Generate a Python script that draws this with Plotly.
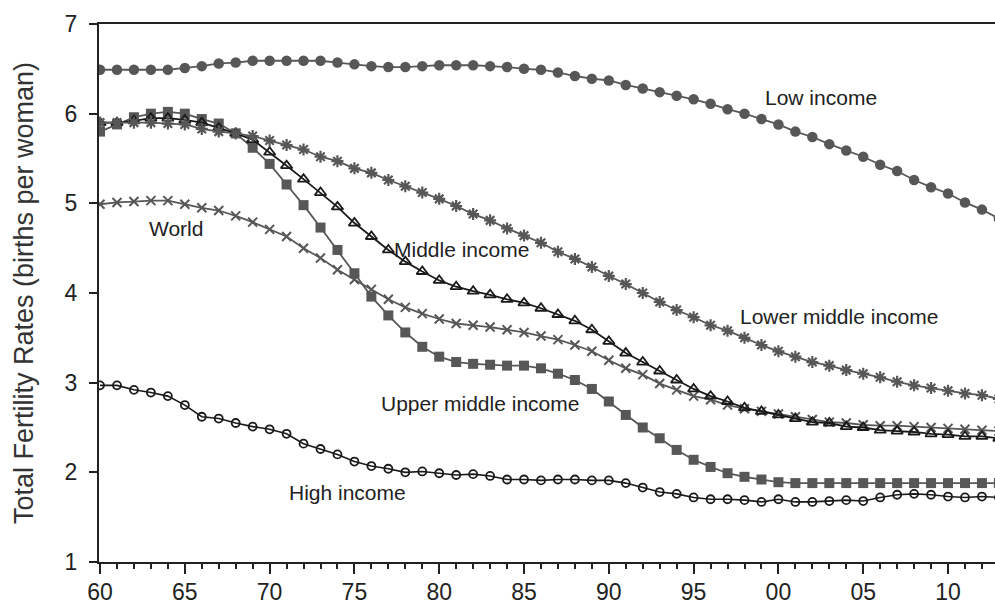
import plotly.graph_objects as go

years = list(range(1960, 2014))

low_income = [6.49, 6.49, 6.49, 6.49, 6.49, 6.51, 6.53, 6.56, 6.57, 6.59,
              6.59, 6.59, 6.59, 6.59, 6.57, 6.55, 6.53, 6.52, 6.52, 6.53,
              6.54, 6.54, 6.54, 6.53, 6.52, 6.50, 6.49, 6.46, 6.42, 6.39,
              6.37, 6.32, 6.28, 6.24, 6.20, 6.16, 6.11, 6.05, 6.00, 5.94,
              5.88, 5.80, 5.74, 5.66, 5.59, 5.52, 5.43, 5.36, 5.26, 5.18,
              5.11, 5.01, 4.93, 4.83]

lower_middle = [5.90, 5.90, 5.90, 5.90, 5.89, 5.88, 5.83, 5.80, 5.78, 5.75,
                5.70, 5.65, 5.60, 5.52, 5.47, 5.39, 5.34, 5.26, 5.19, 5.12,
                5.05, 4.97, 4.88, 4.81, 4.72, 4.64, 4.56, 4.46, 4.38, 4.29,
                4.19, 4.10, 4.00, 3.90, 3.81, 3.73, 3.64, 3.58, 3.50, 3.42,
                3.35, 3.29, 3.23, 3.19, 3.14, 3.10, 3.06, 3.01, 2.97, 2.94,
                2.91, 2.88, 2.86, 2.82]

middle = [5.90, 5.90, 5.92, 5.95, 5.95, 5.93, 5.90, 5.84, 5.78, 5.71,
          5.57, 5.42, 5.27, 5.12, 4.96, 4.78, 4.63, 4.48, 4.35, 4.24,
          4.14, 4.07, 4.02, 3.98, 3.93, 3.89, 3.83, 3.76, 3.69, 3.59,
          3.46, 3.33, 3.23, 3.13, 3.03, 2.93, 2.85, 2.79, 2.72, 2.68,
          2.64, 2.60, 2.56, 2.55, 2.51, 2.50, 2.47, 2.46, 2.45, 2.43,
          2.42, 2.40, 2.40, 2.38]

upper_middle = [5.80, 5.88, 5.96, 6.00, 6.02, 6.00, 5.94, 5.89, 5.78, 5.62,
                5.44, 5.21, 4.98, 4.73, 4.48, 4.22, 3.96, 3.75, 3.56, 3.40,
                3.29, 3.23, 3.21, 3.20, 3.19, 3.19, 3.16, 3.10, 3.03, 2.93,
                2.79, 2.64, 2.50, 2.38, 2.25, 2.14, 2.06, 1.99, 1.95, 1.92,
                1.89, 1.88, 1.88, 1.88, 1.88, 1.88, 1.88, 1.88, 1.88, 1.88,
                1.88, 1.88, 1.88, 1.88]

world = [4.99, 5.01, 5.02, 5.03, 5.03, 4.99, 4.95, 4.92, 4.86, 4.79,
         4.71, 4.63, 4.50, 4.39, 4.26, 4.15, 4.04, 3.93, 3.84, 3.77,
         3.71, 3.66, 3.64, 3.62, 3.59, 3.56, 3.52, 3.48, 3.42, 3.35,
         3.25, 3.16, 3.09, 2.99, 2.92, 2.85, 2.81, 2.75, 2.71, 2.68,
         2.65, 2.62, 2.59, 2.56, 2.55, 2.53, 2.52, 2.52, 2.51, 2.50,
         2.49, 2.48, 2.47, 2.46]

high_income = [2.97, 2.97, 2.92, 2.89, 2.85, 2.75, 2.62, 2.60, 2.55, 2.51,
               2.48, 2.43, 2.32, 2.26, 2.20, 2.12, 2.07, 2.04, 2.00, 2.01,
               1.99, 1.97, 1.98, 1.96, 1.92, 1.92, 1.91, 1.92, 1.92, 1.91,
               1.91, 1.88, 1.83, 1.78, 1.76, 1.72, 1.70, 1.70, 1.69, 1.67,
               1.70, 1.67, 1.67, 1.68, 1.69, 1.68, 1.72, 1.75, 1.76, 1.75,
               1.73, 1.72, 1.73, 1.72]

tick_years = [1960, 1965, 1970, 1975, 1980, 1985, 1990, 1995, 2000, 2005, 2010]
tick_labels = ["60", "65", "70", "75", "80", "85", "90", "95", "00", "05", "10"]

labels = ["Low income", "Lower middle income", "Middle income",
          "Upper middle income", "World", "High income"]
label_x = [2002.5, 2003.6, 1981.3, 1982.4, 1964.5, 1974.6]
label_y = [6.18, 3.74, 4.48, 2.77, 4.72, 1.78]

GRAY = "#575757"
BLACK = "#1a1a1a"

fig = go.Figure()

fig.add_trace(go.Scatter(
    x=years, y=high_income, mode="lines+markers", name="High income",
    line=dict(color=BLACK, width=1.6),
    marker=dict(symbol="circle-open", size=8, color=BLACK, line=dict(width=1.8))))
fig.add_trace(go.Scatter(
    x=years, y=upper_middle, mode="lines+markers", name="Upper middle income",
    line=dict(color=GRAY, width=1.8),
    marker=dict(symbol="square", size=10, color=GRAY)))
fig.add_trace(go.Scatter(
    x=years, y=world, mode="lines+markers", name="World",
    line=dict(color=GRAY, width=1.8),
    marker=dict(symbol="x-thin-open", size=9, color=GRAY, line=dict(width=2, color=GRAY))))
fig.add_trace(go.Scatter(
    x=years, y=middle, mode="lines+markers", name="Middle income",
    line=dict(color=BLACK, width=1.8),
    marker=dict(symbol="triangle-up-open", size=10, color=BLACK, line=dict(width=1.8))))
fig.add_trace(go.Scatter(
    x=years, y=lower_middle, mode="lines+markers", name="Lower middle income",
    line=dict(color=GRAY, width=1.8),
    marker=dict(symbol="asterisk-open", size=10, color=GRAY, line=dict(width=2.2, color=GRAY))))
fig.add_trace(go.Scatter(
    x=years, y=low_income, mode="lines+markers", name="Low income",
    line=dict(color=GRAY, width=1.8),
    marker=dict(symbol="circle", size=10.5, color=GRAY)))

for t, xx, yy in zip(labels, label_x, label_y):
    fig.add_annotation(x=xx, y=yy, text=t, showarrow=False,
                       font=dict(family="Liberation Sans, Arial", size=21, color="#222222"))

fig.update_layout(
    width=995, height=606,
    margin=dict(l=99, r=0, t=24, b=44),
    paper_bgcolor="white", plot_bgcolor="white",
    showlegend=False,
    font=dict(family="Liberation Sans, Arial", color="#222222"),
)

fig.update_xaxes(
    range=[1959.94, 2012.77], automargin=False,
    tickmode="array", tickvals=tick_years, ticktext=tick_labels,
    ticks="outside", ticklen=10, tickwidth=2, tickcolor="#222222",
    minor=dict(tickmode="linear", tick0=1960, dtick=1, ticks="outside",
               ticklen=5, tickwidth=1.5, tickcolor="#222222"),
    showline=True, linewidth=2, linecolor="#222222", mirror=True,
    showgrid=False, zeroline=False,
    tickfont=dict(size=23),
    ticklabelstandoff=-2,
)

fig.update_yaxes(
    range=[1, 7], dtick=1, tick0=1, automargin=False,
    ticks="outside", ticklen=8, tickwidth=2, tickcolor="#222222",
    ticklabelstandoff=7,
    showline=True, linewidth=2, linecolor="#222222",
    showgrid=False, zeroline=False,
    tickfont=dict(size=23),
    title=dict(text="Total Fertility Rates (births per woman)",
               font=dict(size=27, color="#333333"), standoff=23),
)

fig.write_html("out.html", config={"displayModeBar": False},
               post_script="document.body.style.margin='0';document.body.style.overflow='hidden';")
